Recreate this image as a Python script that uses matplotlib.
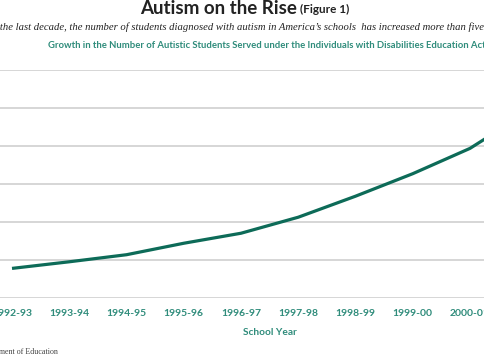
import matplotlib.pyplot as plt

years = ['1992-93', '1993-94', '1994-95', '1995-96', '1996-97',
         '1997-98', '1998-99', '1999-00', '2000-01', '2001-02']
students = [15580, 19058, 22780, 28813, 34084, 42517, 53576, 65424, 78749, 97847]
y_grid = [0, 20000, 40000, 60000, 80000, 100000, 120000]

teal = '#0d6b58'
label_col = '#2f8c7b'

fig = plt.figure(figsize=(4.85, 3.6), dpi=100)
ax = fig.add_axes([0, 62 / 360, 1, 228 / 360])

x = list(range(len(years)))
ax.plot(x, students, color=teal, lw=2.3, solid_capstyle='butt', zorder=3)

ax.set_yticks(y_grid)
ax.set_yticklabels([])
ax.tick_params(axis='y', length=0)
ax.grid(axis='y', color='#cfcfcf', lw=1.2)
ax.set_axisbelow(True)
for s in ax.spines.values():
    s.set_visible(False)

ax.set_xticks(x)
ax.set_xticklabels(years, family='Lato', weight='bold', size=7.5, color=label_col)
ax.tick_params(axis='x', length=0, pad=8)
ax.set_xlabel('School Year', family='Lato', weight='bold', size=7.3,
              color=label_col)
ax.xaxis.set_label_coords(270 / 485, -30 / 228)

# set limits after ticks so they are not widened
ax.set_xlim(-12 / 57.25, 473 / 57.25)
ax.set_ylim(0, 120000)

fig.text(297 / 485, 1 - 9 / 360, 'Autism on the Rise', ha='right', va='center',
         family='Lato', weight='bold', size=13.5, color='#222222')
fig.text(300 / 485, 1 - 9.5 / 360, '(Figure 1)', ha='left', va='center',
         family='Lato', weight='bold', size=8.5, color='#222222')
fig.text(-24 / 485, 1 - 27 / 360,
         "Over the last decade, the number of students diagnosed with autism in "
         "America\u2019s schools  has increased more than fivefold.",
         ha='left', va='center', family='Liberation Serif', style='italic',
         size=7.7, color='#222222')
fig.text(48 / 485, 1 - 46 / 360,
         'Growth in the Number of Autistic Students Served under the '
         'Individuals with Disabilities Education Act',
         ha='left', va='center', family='Lato', weight='bold', size=6.8,
         color=label_col)
fig.text(-66 / 485, 1 - 352 / 360, 'Source: U.S. Department of Education',
         ha='left', va='center', family='Liberation Serif', size=5.8,
         color='#444444')

fig.savefig('out.png', dpi=100)
